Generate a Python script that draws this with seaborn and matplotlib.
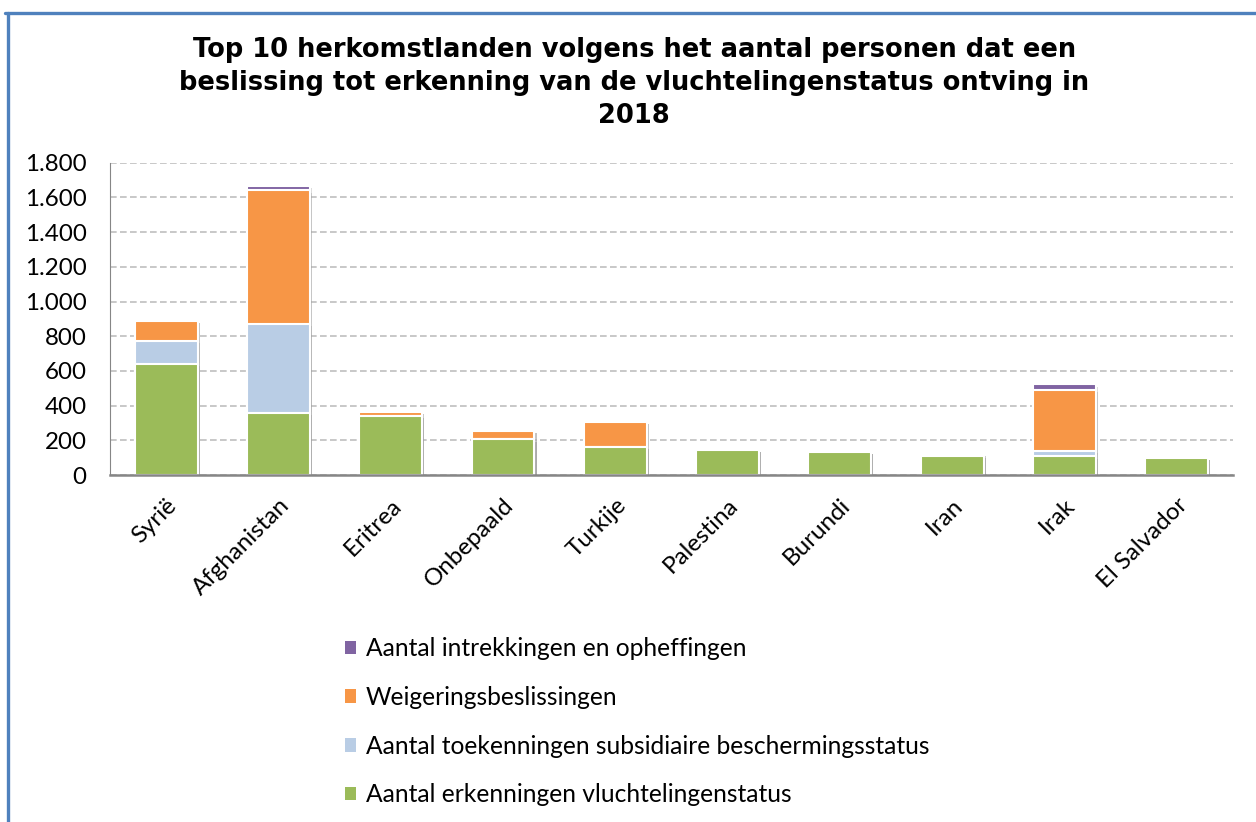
import numpy as np
import pandas as pd
import seaborn as sns
import matplotlib.pyplot as plt
from matplotlib.patches import Patch
from matplotlib.lines import Line2D
import matplotlib.patheffects as pe

# data
landen = ["Syrië", "Afghanistan", "Eritrea", "Onbepaald", "Turkije",
          "Palestina", "Burundi", "Iran", "Irak", "El Salvador"]
erkenningen = [640, 357, 342, 205, 160, 145, 134, 108, 107, 101]
subsidiair = [135, 511, 0, 0, 0, 0, 0, 5, 32, 0]
weigeringen = [115, 772, 20, 50, 145, 0, 0, 10, 353, 0]
intrekkingen = [0, 25, 0, 0, 0, 0, 0, 0, 30, 0]

reeksen = ["Aantal erkenningen vluchtelingenstatus",
           "Aantal toekenningen subsidiaire beschermingsstatus",
           "Weigeringsbeslissingen",
           "Aantal intrekkingen en opheffingen"]
kleuren = ["#9BBB59", "#B9CDE5", "#F79646", "#8064A2"]

df = pd.DataFrame({"land": landen,
                   reeksen[0]: erkenningen,
                   reeksen[1]: subsidiair,
                   reeksen[2]: weigeringen,
                   reeksen[3]: intrekkingen})

# cumulative totals so we can overplot from the top layer down
cum = df[reeksen].cumsum(axis=1)

sns.set_style("white")
plt.rcParams['font.family'] = ['Lato', 'DejaVu Sans']
plt.rcParams['text.color'] = 'black'
plt.rcParams['xtick.color'] = 'black'
plt.rcParams['ytick.color'] = 'black'

fig = plt.figure(figsize=(12.56, 8.22), dpi=100)
ax = fig.add_axes([0.0876, 0.4221, 0.894, 0.38])

shadow = [pe.SimplePatchShadow(offset=(1.5, -1.5), shadow_rgbFace="#999999", alpha=0.35), pe.Normal()]

for i in range(len(reeksen) - 1, -1, -1):
    tmp = pd.DataFrame({"land": landen, "waarde": cum[reeksen[i]].values})
    sns.barplot(data=tmp, x="land", y="waarde", color=kleuren[i], width=0.56,
                edgecolor="white", linewidth=1.5, saturation=1, ax=ax,
                order=landen)

for bar in ax.patches:
    if bar.get_height() > 0:
        bar.set_path_effects(shadow)

ax.set_ylim(0, 1800)
ax.set_xlim(-0.5, 9.5)
ax.set_yticks(np.arange(0, 1801, 200))
ax.set_yticklabels([f"{v:,}".replace(",", ".") for v in range(0, 1801, 200)])
ax.yaxis.grid(True, linestyle=(0, (4, 2)), color="#BFBFBF", linewidth=1.2)
ax.set_axisbelow(True)
ax.set_xlabel("")
ax.set_ylabel("")
ax.tick_params(axis="both", length=0, labelsize=17.4, colors="black")
ax.tick_params(axis="y", pad=17)
ax.tick_params(axis="x", pad=14)
plt.setp(ax.get_xticklabels(), rotation=45, ha="right", rotation_mode="anchor")

for s in ["top", "right"]:
    ax.spines[s].set_visible(False)
ax.spines["left"].set_color("#868686")
ax.spines["bottom"].set_color("#868686")
ax.spines["bottom"].set_linewidth(1.8)

fig.text(0.505, 0.955,
         "Top 10 herkomstlanden volgens het aantal personen dat een\n"
         "beslissing tot erkenning van de vluchtelingenstatus ontving in\n2018",
         ha="center", va="top", fontsize=18.5, fontweight="bold",
         family="DejaVu Sans", linespacing=1.36, color="black")

handles = [Patch(facecolor=kleuren[i], edgecolor="none", label=reeksen[i])
           for i in range(len(reeksen) - 1, -1, -1)]
fig.legend(handles=handles, loc="upper left", bbox_to_anchor=(0.2747, 0.225),
           frameon=False, fontsize=17.7, handlelength=0.45, handleheight=0.45,
           handletextpad=0.4, labelspacing=1.05, borderpad=0, borderaxespad=0)

# blue frame (top and left edge visible in original)
fig.add_artist(Line2D([0.004, 1], [0.9836, 0.9836], color="#4F81BD", linewidth=2.4,
                      transform=fig.transFigure))
fig.add_artist(Line2D([0.006, 0.006], [0, 0.9836], color="#4F81BD", linewidth=2.4,
                      transform=fig.transFigure))

fig.savefig("out.png", dpi=100, facecolor="white")
